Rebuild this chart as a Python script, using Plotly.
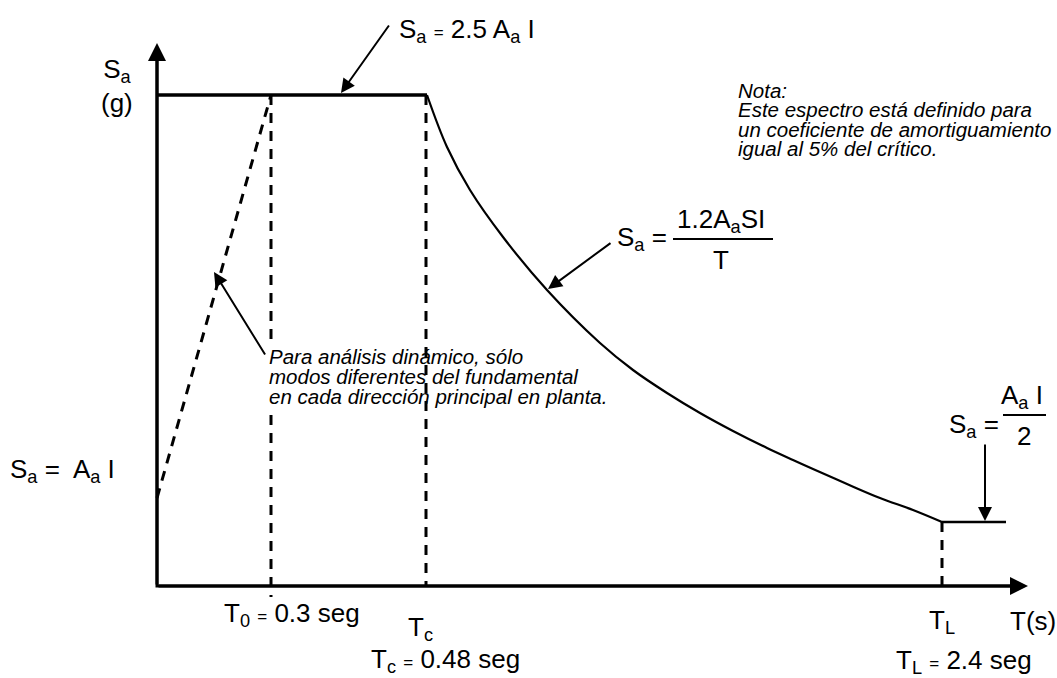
import plotly.graph_objects as go

# ---- schematic data (diagram units, origin at the axes corner) ----
ramp_T = [0, 114]
ramp_Sa = [88, 491]

plateau_T = [0, 270]
plateau_Sa = [491, 491]

curve_T = [270, 290, 313, 346, 390, 443, 476, 510, 543, 576, 610, 636, 656, 690, 723, 756, 785]
curve_Sa = [491, 439, 396, 349, 296, 243, 216, 193, 173, 155, 138, 126, 117, 102, 88, 76, 64]

tail_T = [785, 849]
tail_Sa = [64, 64]

T0_line_T = [114, 114, None, 114, 114]
T0_line_Sa = [491, 246, None, 171, -11]
Tc_line_T = [269, 269]
Tc_line_Sa = [491, 0]
TL_line_T = [785, 785]
TL_line_Sa = [64, -8]

axis_T = [0, 0, 860]
axis_Sa = [535, 0, 0]
x_axis_end = 871
y_axis_end = 543

FONT = "Liberation Sans, Arial, sans-serif"
DASH = "10px,8px"

fig = go.Figure()

def add_line(x, y, width, dash=None):
    fig.add_trace(go.Scatter(
        x=x, y=y, mode="lines", showlegend=False, hoverinfo="skip",
        line=dict(color="black", width=width, dash=dash, shape="linear"),
    ))

add_line(axis_T, axis_Sa, 3)
add_line(ramp_T, ramp_Sa, 3, DASH)
add_line(T0_line_T, T0_line_Sa, 3, DASH)
add_line(Tc_line_T, Tc_line_Sa, 3, DASH)
add_line(TL_line_T, TL_line_Sa, 3, DASH)
add_line(plateau_T, plateau_Sa, 3.5)
fig.add_trace(go.Scatter(
    x=curve_T, y=curve_Sa, mode="lines", showlegend=False, hoverinfo="skip",
    line=dict(color="black", width=2.2, shape="spline", smoothing=1.0),
))
add_line(tail_T, tail_Sa, 2.5)

ann = []

def arrow(x, y, ax, ay, width=2, size=1.4):
    ann.append(dict(x=x, y=y, ax=ax, ay=ay, xref="x", yref="y", axref="x", ayref="y",
                    text="", showarrow=True, arrowhead=2, arrowsize=size,
                    arrowwidth=width, arrowcolor="black", standoff=0))

def px(x):
    return x - 157

def py(y):
    return 586 - y

# axis arrow heads
arrow(0, y_axis_end, 0, 0, width=3, size=1.2)
arrow(x_axis_end, 0, 0, 0, width=3, size=1.2)
# pointer arrows
arrow(px(341), py(93), px(390), py(24))
arrow(px(548), py(289), px(612), py(242))
arrow(px(214), py(272), px(266), py(356))
arrow(px(985), py(521), px(985), py(443))

def text(t, x, y, size=26, xanchor="left", italic=False, align="left"):
    if italic:
        t = "<i>" + t + "</i>"
    ann.append(dict(x=px(x), y=py(y), xref="x", yref="y", text=t, showarrow=False,
                    xanchor=xanchor, yanchor="middle", align=align,
                    font=dict(family=FONT, size=size, color="black")))

EQ = '<span style="font-size:17px">=</span>'

text("S<sub>a</sub><br>(g)", 117, 86, xanchor="center", align="center")
text("S<sub>a</sub> " + EQ + " 2.5 A<sub>a</sub> I", 397, 30)

NF = 20.5
text("Nota:", 736, 90, size=NF, italic=True)
text("Este espectro está definido para", 736, 109, size=NF, italic=True)
text("un coeficiente de amortiguamiento", 736, 129, size=NF, italic=True)
text("igual al 5% del crítico.", 736, 148, size=NF, italic=True)

text("S<sub>a</sub> =", 669, 238, xanchor="right")
text("1.2A<sub>a</sub>SI", 721, 220, xanchor="center")
text("T", 721, 260, xanchor="center")

text("S<sub>a</sub> =", 1001, 425, xanchor="right")
text("A<sub>a</sub> I", 1022, 396, xanchor="center")
text("2", 1024, 436, xanchor="center")

text("S<sub>a</sub> =  A<sub>a</sub> I", 8, 470)

text("Para análisis dinámico, sólo", 267, 356, size=NF, italic=True)
text("modos diferentes del fundamental", 267, 376, size=NF, italic=True)
text("en cada dirección principal en planta.", 267, 396, size=NF, italic=True)

text("T<sub>0</sub> " + EQ + " 0.3 seg", 222, 614)
text("T<sub>c</sub>", 406, 628)
text("T<sub>c</sub> " + EQ + " 0.48 seg", 369, 660)
text("T<sub>L</sub>", 927, 621)
text("T(s)", 1008, 621)
text("T<sub>L</sub> " + EQ + " 2.4 seg", 894, 661)

shapes = [
    dict(type="line", xref="x", yref="y", x0=px(673), x1=px(773), y0=py(239), y1=py(239),
         line=dict(color="black", width=2)),
    dict(type="line", xref="x", yref="y", x0=px(1003), x1=px(1046), y0=py(415), y1=py(415),
         line=dict(color="black", width=2)),
]

fig.update_layout(
    width=1057, height=678, autosize=False,
    margin=dict(l=0, r=0, t=0, b=0, pad=0),
    paper_bgcolor="white", plot_bgcolor="white",
    xaxis=dict(range=[-157, 900], visible=False, fixedrange=True),
    yaxis=dict(range=[-92, 586], visible=False, fixedrange=True),
    annotations=ann, shapes=shapes, showlegend=False,
)

fig.write_html("out.html", config={"displayModeBar": False},
               post_script="document.body.style.margin='0';")
